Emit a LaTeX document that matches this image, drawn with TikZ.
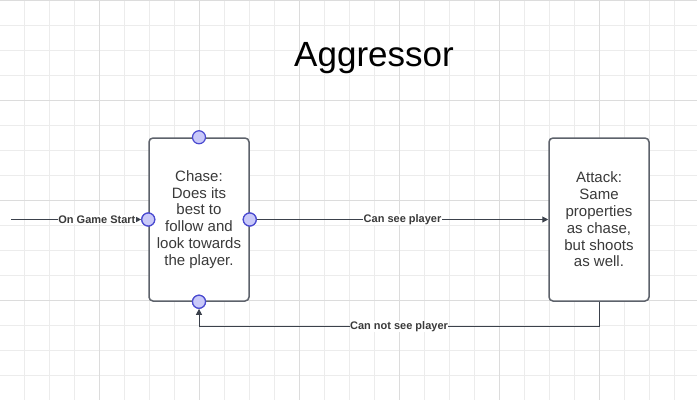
\documentclass[tikz,border=0pt]{standalone}
\usepackage{fontspec}
\setmainfont{Liberation Sans}
\usepackage{tikz}
\usetikzlibrary{arrows.meta}
\definecolor{gridminor}{HTML}{ECECEC}
\definecolor{gridmajor}{HTML}{DCDCDC}
\definecolor{boxline}{HTML}{5D626B}
\definecolor{textgray}{HTML}{3A3A3A}
\definecolor{connline}{HTML}{3B414B}
\definecolor{handlefill}{HTML}{C9C9F9}
\definecolor{handleline}{HTML}{4A4AD0}
\tikzstyle{statebox} = [draw=boxline, fill=white, line width=1.5pt,
    rectangle, rounded corners=4pt, minimum width=100pt, minimum height=163pt,
    align=center, text=textgray, font=\fontsize{15}{16.8}\selectfont]
\tikzstyle{handle} = [circle, draw=handleline, fill=handlefill, line width=1.2pt,
    minimum size=13pt, inner sep=0pt]
\tikzstyle{conn} = [draw=connline, line width=1pt, -{Triangle[length=6pt,width=6pt]}]
\tikzstyle{lbl} = [fill=white, text=textgray, inner sep=0.5pt,
    font=\fontsize{11}{12}\selectfont\bfseries]

\begin{document}
\begin{tikzpicture}[x=1pt, y=-1pt]
    \useasboundingbox (0,0) rectangle (697,400);
    \fill[white] (0,0) rectangle (697,400);
    \foreach \gx in {24.3,49.3,...,697} \draw[gridminor, line width=1pt] (\gx,0) -- (\gx,400);
    \foreach \gy in {25.3,50.3,...,400} \draw[gridminor, line width=1pt] (0,\gy) -- (697,\gy);
    \foreach \gx in {99.3,199.3,...,697} \draw[gridmajor, line width=1pt] (\gx,0) -- (\gx,400);
    \foreach \gy in {0.8,100.3,200.3,300.3} \draw[gridmajor, line width=1pt] (0,\gy) -- (697,\gy);

    \node[font=\fontsize{35}{40}\selectfont, text=black] (title) at (374,58) {Aggressor};

    \node[statebox] (chase) at (199,219.5) {Chase:\\Does its\\best to\\follow and\\look towards\\the player.};
    \node[statebox] (attack) at (599,219.5) {Attack:\\Same\\properties\\as chase,\\but shoots\\as well.};

    \coordinate (start) at (11,219.5);
    \node[handle] (hl) at (chase.west) {};
    \node[handle] (hr) at (chase.east) {};
    \node[handle] (hb) at (chase.south) {};

    \draw[conn] (start) -- node[lbl, pos=0.66] {On Game Start} (hl.west);
    \draw[conn] (hr.east) -- node[lbl, pos=0.5] {Can see player} (attack.west);
    \draw[conn] (attack.south) -- ++(0,25) coordinate (back)
        -| node[lbl, pos=0.25] {Can not see player} (hb.south);

    \node[handle] at (hl) {};
    \node[handle] at (hr) {};
    \node[handle] at (hb) {};
    \node[handle] (ht) at (chase.north) {};
\end{tikzpicture}
\end{document}
